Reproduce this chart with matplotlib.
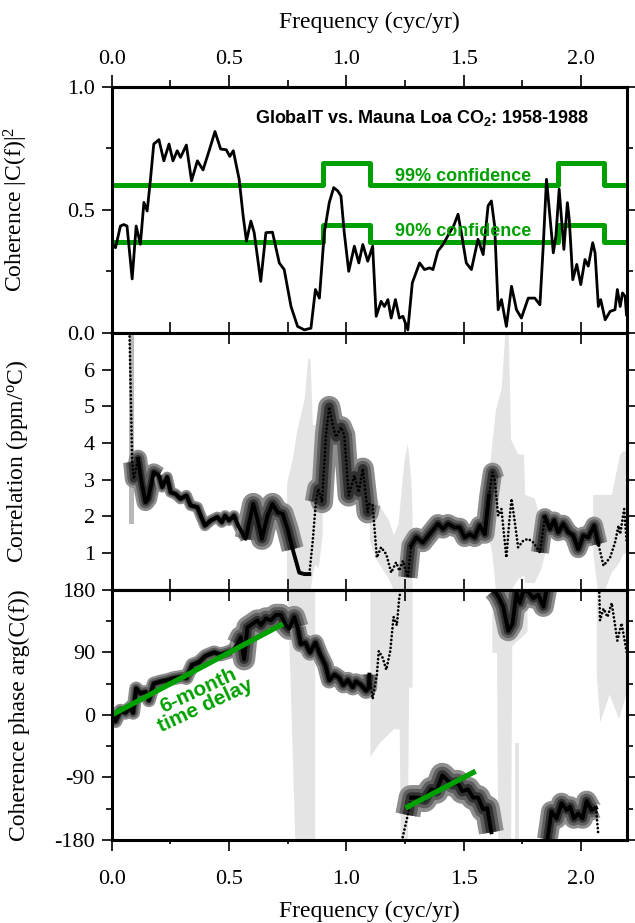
import numpy as np
import matplotlib
matplotlib.use('Agg')
import matplotlib.pyplot as plt
from matplotlib.ticker import MultipleLocator, FixedLocator

GREEN = '#00a000'
LIGHT = '#e4e4e4'
SERIF = 'Liberation Serif'
SANS = ['Liberation Sans', 'DejaVu Sans']

# ---- coherence (top panel)
coh_f = [0.0, 0.016, 0.037, 0.051, 0.065, 0.087, 0.104, 0.122, 0.137, 0.151, 0.165, 0.179,
         0.201, 0.222, 0.244, 0.261, 0.279, 0.293, 0.318, 0.34, 0.365, 0.389, 0.415, 0.44,
         0.464, 0.488, 0.503, 0.518, 0.543, 0.56, 0.574, 0.593, 0.607, 0.635, 0.657, 0.685,
         0.714, 0.735, 0.764, 0.792, 0.821, 0.849, 0.868, 0.885, 0.906, 0.927, 0.946, 0.963,
         0.977, 0.991, 1.01, 1.034, 1.053, 1.07, 1.091, 1.098, 1.112, 1.127, 1.148, 1.162,
         1.177, 1.191, 1.209, 1.226, 1.241, 1.262, 1.281, 1.312, 1.333, 1.355, 1.369, 1.39,
         1.412, 1.44, 1.457, 1.476, 1.49, 1.511, 1.533, 1.561, 1.583, 1.604, 1.618, 1.632,
         1.647, 1.661, 1.682, 1.704, 1.725, 1.746, 1.775, 1.803, 1.825, 1.839, 1.853, 1.868,
         1.882, 1.893, 1.907, 1.917, 1.927, 1.942, 1.95, 1.965, 1.982, 1.999, 2.017, 2.031,
         2.05, 2.06, 2.074, 2.084, 2.103, 2.124, 2.145, 2.155, 2.167, 2.177, 2.188, 2.194]
coh = [0.366, 0.346, 0.434, 0.44, 0.434, 0.219, 0.434, 0.36, 0.53, 0.495, 0.624, 0.767,
       0.785, 0.699, 0.767, 0.699, 0.74, 0.713, 0.763, 0.618, 0.699, 0.662, 0.74, 0.818,
       0.747, 0.744, 0.717, 0.74, 0.624, 0.475, 0.373, 0.454, 0.407, 0.209, 0.407, 0.409,
       0.284, 0.257, 0.107, 0.026, 0.012, 0.019, 0.176, 0.141, 0.407, 0.529, 0.59, 0.577,
       0.556, 0.407, 0.25, 0.352, 0.284, 0.359, 0.291, 0.311, 0.352, 0.067, 0.128, 0.107,
       0.135, 0.06, 0.135, 0.06, 0.067, 0.012, 0.203, 0.284, 0.257, 0.264, 0.257, 0.332,
       0.359, 0.407, 0.434, 0.482, 0.407, 0.284, 0.257, 0.38, 0.318, 0.516, 0.536, 0.434,
       0.094, 0.135, 0.026, 0.189, 0.094, 0.06, 0.141, 0.141, 0.114, 0.352, 0.624, 0.468,
       0.325, 0.393, 0.584, 0.461, 0.339, 0.529, 0.461, 0.216, 0.278, 0.196, 0.298, 0.271,
       0.366, 0.325, 0.107, 0.135, 0.053, 0.087, 0.094, 0.176, 0.107, 0.162, 0.148, 0.073]

conf_f = [0.0, 0.9, 1.1, 1.9, 2.1, 2.2]
conf99 = [0.60, 0.69, 0.60, 0.69, 0.60, 0.60]
conf90 = [0.37, 0.44, 0.37, 0.44, 0.37, 0.37]

# ---- correlation (middle panel)
corr_f = [0.076, 0.087, 0.094, 0.112, 0.127, 0.144, 0.155, 0.179, 0.201, 0.215, 0.236, 0.251,
          0.272, 0.293, 0.318, 0.336, 0.365, 0.379, 0.397, 0.422, 0.45, 0.469, 0.483, 0.5,
          0.521, 0.543, 0.571, 0.603, 0.621, 0.64, 0.664, 0.685, 0.707, 0.728, 0.749, 0.771,
          0.799, 0.821, 0.842, 0.856, 0.87, 0.88, 0.896, 0.913, 0.927, 0.942, 0.956, 0.977,
          0.991, 1.01, 1.034, 1.053, 1.07, 1.091, 1.098, 1.112, 1.13, 1.148, 1.17, 1.191,
          1.212, 1.226, 1.241, 1.262, 1.276, 1.298, 1.326, 1.355, 1.39, 1.412, 1.433, 1.462,
          1.483, 1.504, 1.526, 1.547, 1.568, 1.59, 1.608, 1.623, 1.632, 1.647, 1.661, 1.668,
          1.682, 1.694, 1.704, 1.718, 1.732, 1.754, 1.775, 1.797, 1.825, 1.846, 1.868, 1.885,
          1.903, 1.924, 1.946, 1.967, 1.988, 2.01, 2.031, 2.056, 2.074, 2.096, 2.124, 2.145,
          2.16, 2.167, 2.184, 2.195]
corr = [6.9, 3.48, 3.02, 3.57, 2.93, 2.39, 2.48, 3.2, 3.11, 2.8, 3.07, 2.66,
        2.61, 2.48, 2.57, 2.3, 2.25, 2.02, 1.75, 1.89, 1.98, 1.84, 2.02, 1.89,
        2.02, 1.7, 1.39, 2.34, 1.93, 1.39, 2.02, 2.34, 2.11, 2.07, 1.66, 1.11,
        0.47, 0.43, 0.43, 1.29, 2.39, 2.75, 2.39, 4.21, 4.98, 4.48, 4.16, 4.43,
        4.21, 2.57, 3.11, 2.66, 3.3, 2.11, 2.34, 2.3, 0.88, 1.16, 0.97, 0.47,
        0.75, 0.52, 0.79, 0.34, 1.2, 1.43, 1.29, 1.52, 1.8, 1.66, 1.8, 1.7,
        1.7, 1.43, 1.52, 1.43, 1.75, 1.52, 2.57, 3.2, 3.02, 2.02, 2.2, 1.75,
        0.88, 1.84, 2.48, 1.84, 1.16, 1.34, 1.39, 1.29, 1.02, 1.98, 1.66, 1.89,
        1.57, 1.8, 1.57, 1.48, 1.11, 1.48, 1.43, 1.75, 1.25, 0.66, 0.88, 1.29,
        1.75, 1.52, 2.2, 1.29]

# low-coherence error envelopes (f, lower, upper)
corr_env1 = ([0.073, 0.094], [1.8, 1.8], [7.0, 7.0])
corr_env2 = ([0.745, 0.77, 0.79, 0.82, 0.835, 0.845, 0.855, 0.865, 0.88, 0.897],
             [0, 0, 0, 0, 0, 0, 0.4, 0.7, 0.6, 1.5],
             [2.9, 3.6, 4.4, 5.2, 6.3, 6.3, 4.5, 4.5, 4.6, 3.6])
corr_env3 = ([1.098, 1.12, 1.15, 1.18, 1.2, 1.22, 1.245, 1.26, 1.275, 1.28],
             [1.4, 0.9, 0.6, 0.3, 0, 0, 0, 0, 0, 0],
             [3.0, 2.6, 2.2, 1.9, 1.5, 1.8, 3.5, 4.0, 3.0, 2.0])
corr_env4 = ([1.605, 1.62, 1.635, 1.66, 1.675, 1.69, 1.70, 1.73, 1.755, 1.76, 1.80, 1.83, 1.845],
             [1.5, 1.0, 0, 0, 0, 0, 0, 0.3, 0.4, 0.2, 0.2, 0.6, 1.0],
             [3.0, 4.0, 4.9, 5.5, 7.0, 7.0, 4.1, 3.7, 3.7, 2.6, 2.5, 1.9, 1.4])
corr_env5 = ([2.05, 2.07, 2.10, 2.13, 2.145, 2.165, 2.18, 2.2],
             [1.0, 0, 0, 0.5, 0.6, 0.8, 1.0, 1.0],
             [2.6, 2.6, 2.6, 2.6, 3.1, 3.7, 3.8, 3.75])
corr_solid = [(0.112, 0.842), (1.276, 1.608), (1.846, 2.074)]
corr_dark = [(0.087, 0.201), (0.201, 0.571), (0.571, 0.771), (0.87, 1.098),
             (1.262, 1.632), (1.825, 2.074)]
corr_dark_w = [13, 8, 16, 16, 14, 13]

# ---- phase (bottom panel), degrees
ph_f = [0.0, 0.016, 0.037, 0.058, 0.08, 0.091, 0.104, 0.122, 0.144, 0.158, 0.179, 0.208,
        0.236, 0.265, 0.301, 0.318, 0.343, 0.372, 0.4, 0.436, 0.464, 0.493, 0.514, 0.536,
        0.55, 0.564, 0.578, 0.6, 0.621, 0.635, 0.657, 0.678, 0.7, 0.721, 0.742, 0.756,
        0.778, 0.792, 0.806, 0.825, 0.845, 0.868, 0.888, 0.91, 0.927, 0.949, 0.97, 0.987,
        1.006, 1.027, 1.041, 1.063, 1.084, 1.096, 1.098, 1.112, 1.13, 1.138, 1.155, 1.17,
        1.187, 1.201, 1.215, 1.226, 1.233, 1.24, 1.262, 1.276, 1.305, 1.333, 1.362, 1.383,
        1.409, 1.433, 1.455, 1.472, 1.494, 1.518, 1.54, 1.561, 1.583, 1.6, 1.618, 1.628,
        1.647, 1.668, 1.69, 1.708, 1.725, 1.739, 1.754, 1.772, 1.797, 1.818, 1.84, 1.853,
        1.857, 1.874, 1.896, 1.917, 1.939, 1.953, 1.97, 1.988, 2.007, 2.024, 2.045, 2.064,
        2.074, 2.078, 2.081, 2.096, 2.113, 2.131, 2.155, 2.173, 2.195]
ph = [1, -9, 6, 3, 11, 3, 38, 31, 33, 21, 45, 48,
      50, 53, 55, 53, 72, 76, 85, 90, 87, 90, 92, 102,
      112, 80, 126, 131, 136, 129, 139, 136, 144, 144, 129, 124,
      141, 126, 102, 104, 90, 104, 87, 72, 50, 58, 53, 43,
      50, 40, 48, 43, 35, 40, 58, 23, 58, 92, 82, 65,
      92, 141, 129, 171, 178, -176, -144, -119, -119, -122, -107, -110,
      -87, -95, -100, -97, -110, -107, -119, -119, -136, -134, -169, 179,
      171, 156, 121, 131, 176, 161, 178, 178, 168, 173, 156, 180,
      -179, -139, -149, -127, -137, -132, -149, -142, -149, -124, -137, -134,
      -173, 176, 136, 153, 141, 161, 107, 132, 90]

ph_env1 = ([0.748, 0.76, 0.78, 0.865], [175, 50, -180, -180], [180, 180, 180, 180])
ph_env2 = ([1.10, 1.14, 1.2, 1.225, 1.23, 1.26, 1.265, 1.28],
           [-60, -40, -20, -20, -180, -180, 40, 40], [180] * 8)
ph_env3 = ([1.62, 1.64, 1.645, 1.70, 1.705, 1.77], [90, 90, -180, -180, 100, 120], [180] * 6)
ph_env4 = ([1.72, 1.735], [-180, -180], [-40, -40])
ph_env5 = ([2.065, 2.08, 2.12, 2.16, 2.2], [60, -10, 30, -5, 40], [180] * 5)
ph_solid = [(0.0, 1.098), (1.276, 2.064)]
ph_dark = [(0.0, 0.536), (0.536, 0.792), (0.792, 1.098), (1.262, 1.618),
           (1.628, 1.853), (1.857, 2.064)]
ph_dark_w = [10, 16, 12, 18, 15, 15]

delay1_f, delay1_p = [0.0, 0.73], [0.0, 131.0]
delay2_f, delay2_p = [1.252, 1.551], [-134.0, -81.0]


def with_breaks(f, v, jump):
    # put a gap where the phase wraps round
    f = np.asarray(f, float)
    v = np.asarray(v, float)
    fo, vo = [f[0]], [v[0]]
    for i in range(1, len(f)):
        if abs(v[i] - v[i - 1]) > jump:
            fo.append(np.nan)
            vo.append(np.nan)
        fo.append(f[i])
        vo.append(v[i])
    return np.array(fo), np.array(vo)


def pick(f, v, a, b):
    return np.where((f >= a) & (f <= b), v, np.nan)


def draw_estimate(ax, f, v, solid, dark, widths):
    # gray halo = uncertainty where coherence is good
    for (a, b), w in zip(dark, widths):
        vv = pick(f, v, a, b)
        for frac, col in ((1.0, '#8e8e8e'), (0.7, '#5e5e5e'), (0.42, '#303030')):
            ax.plot(f, vv, color=col, lw=w * frac, solid_joinstyle='round',
                    solid_capstyle='butt')
    ax.plot(f, v, color='k', lw=2.0, ls=(0, (0.01, 1.4)), dash_capstyle='round')
    for a, b in solid:
        ax.plot(f, pick(f, v, a, b), color='k', lw=2.8, solid_joinstyle='round')


def envelopes(ax, envs, color=LIGHT):
    for x, lo, hi in envs:
        ax.fill_between(x, lo, hi, color=color, lw=0, zorder=0)


def main():
    plt.rcParams['font.family'] = SERIF
    plt.rcParams['font.size'] = 16
    plt.rcParams['axes.linewidth'] = 2.2
    plt.rcParams['axes.unicode_minus'] = False
    plt.rcParams['mathtext.fontset'] = 'custom'
    plt.rcParams['mathtext.rm'] = SERIF
    plt.rcParams['mathtext.bf'] = 'Liberation Sans:bold'
    plt.rcParams['mathtext.default'] = 'regular'

    fig = plt.figure(figsize=(6.35, 9.23), dpi=100)
    gs = fig.add_gridspec(3, 1, left=0.176, right=0.987, top=0.906, bottom=0.09,
                          hspace=0, height_ratios=[246, 257, 250])
    ax1 = fig.add_subplot(gs[0])
    ax2 = fig.add_subplot(gs[1], sharex=ax1)
    ax3 = fig.add_subplot(gs[2], sharex=ax1)

    # top: coherence
    ax1.plot(conf_f, conf99, color=GREEN, lw=3.6, drawstyle='steps-post')
    ax1.plot(conf_f, conf90, color=GREEN, lw=3.6, drawstyle='steps-post')
    ax1.plot(coh_f, coh, color='k', lw=2.0)
    ax1.text(1.325, 0.874, r'GlobalT vs. Mauna Loa CO$\mathbf{_2}$: 1958-1988', family=SANS,
             fontweight='bold', fontsize=13, ha='center', va='center')
    ax1.text(1.496, 0.635, '99% confidence', family=SANS, fontweight='bold', fontsize=13,
             color=GREEN, ha='center', va='center')
    ax1.text(1.496, 0.412, '90% confidence', family=SANS, fontweight='bold', fontsize=13,
             color=GREEN, ha='center', va='center')
    ax1.set_ylim(0, 1.0)
    ax1.yaxis.set_major_locator(MultipleLocator(0.5))
    ax1.yaxis.set_minor_locator(MultipleLocator(0.25))
    ax1.yaxis.set_major_formatter(plt.FormatStrFormatter('%.1f'))
    ax1.set_ylabel('Coherence |C(f)|$^2$', fontsize=17)

    # middle: correlation
    envelopes(ax2, [corr_env1], '#b8b8b8')
    envelopes(ax2, [corr_env2, corr_env3, corr_env4, corr_env5])
    draw_estimate(ax2, np.array(corr_f), np.array(corr), corr_solid, corr_dark, corr_dark_w)
    ax2.set_ylim(0, 7)
    ax2.set_yticks([1, 2, 3, 4, 5, 6])
    ax2.set_ylabel('Correlation (ppm/$^o$C)', fontsize=17)

    # bottom: phase
    envelopes(ax3, [ph_env1, ph_env2, ph_env3, ph_env4, ph_env5])
    pf, pv = with_breaks(ph_f, ph, 180)
    draw_estimate(ax3, pf, pv, ph_solid, ph_dark, ph_dark_w)
    ax3.plot(delay1_f, delay1_p, color=GREEN, lw=3.8, solid_capstyle='butt')
    ax3.plot(delay2_f, delay2_p, color=GREEN, lw=3.8, solid_capstyle='butt')
    ax3.text(0.385, 24, '6-month\ntime delay', family=SANS, fontweight='bold', fontsize=15,
             color=GREEN, ha='center', va='center', rotation=25, rotation_mode='anchor',
             linespacing=0.9)
    ax3.set_ylim(-180, 180)
    ax3.yaxis.set_major_locator(MultipleLocator(90))
    ax3.yaxis.set_minor_locator(MultipleLocator(45))
    ax3.set_ylabel('Coherence phase arg(C(f))', fontsize=17)
    ax3.set_xlabel('Frequency (cyc/yr)', fontsize=17, labelpad=8)

    ax1.set_xlim(0, 2.195)
    for ax in (ax1, ax2, ax3):
        ax.xaxis.set_major_locator(MultipleLocator(0.5))
        ax.xaxis.set_minor_locator(MultipleLocator(0.25))
        ax.tick_params(axis='y', which='both', direction='out', left=True, right=True,
                       labelright=False, width=1.2)
        ax.tick_params(axis='y', which='major', length=7, pad=5)
        ax.tick_params(axis='y', which='minor', length=4)
        ax.tick_params(axis='x', which='both', direction='in', width=1.2, length=8)
        ax.yaxis.set_label_coords(-0.158, 0.5)

    ax1.tick_params(axis='x', labelbottom=False)
    ax2.tick_params(axis='x', top=True, labelbottom=False)
    ax3.tick_params(axis='x', which='both', direction='out')
    ax3.tick_params(axis='x', which='major', length=8, pad=14)
    ax3.tick_params(axis='x', which='minor', length=3)
    ax3.xaxis.set_major_formatter(plt.FormatStrFormatter('%.1f'))

    top = ax1.secondary_xaxis('top')
    top.xaxis.set_major_locator(FixedLocator([0.0, 0.5, 1.0, 1.5, 2.0]))
    top.xaxis.set_minor_locator(FixedLocator([0.25, 0.75, 1.25, 1.75]))
    top.xaxis.set_major_formatter(plt.FormatStrFormatter('%.1f'))
    top.tick_params(which='both', direction='out', width=1.2)
    top.tick_params(which='major', length=9)
    top.tick_params(which='minor', length=5)
    top.spines['top'].set_linewidth(2.2)
    top.set_xlabel('Frequency (cyc/yr)', fontsize=17, labelpad=16)

    low_top = ax3.secondary_xaxis('top')
    low_top.xaxis.set_major_locator(FixedLocator([0.0, 0.5, 1.0, 1.5, 2.0]))
    low_top.xaxis.set_minor_locator(FixedLocator([0.25, 0.75, 1.25, 1.75]))
    low_top.tick_params(which='both', direction='in', width=1.2, length=8, labeltop=False)
    low_top.spines['top'].set_linewidth(2.2)

    fig.savefig('out.png', dpi=100)


main()
